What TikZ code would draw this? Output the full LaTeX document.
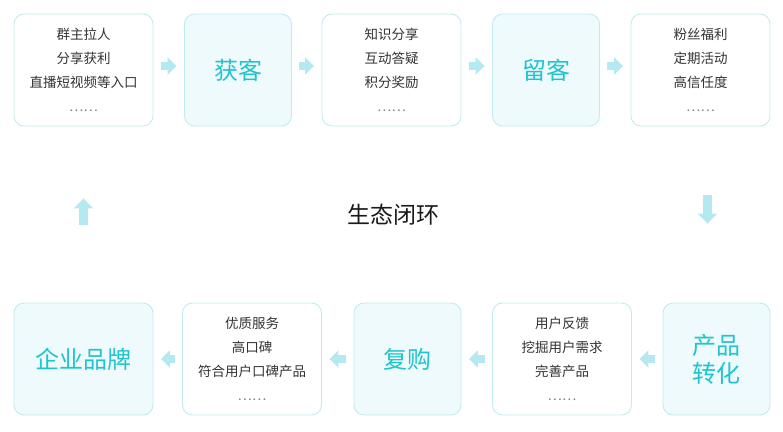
\documentclass[tikz,border=0pt]{standalone}
\usepackage{fontspec}
\setmainfont{Noto Sans CJK SC}
\usetikzlibrary{arrows.meta}
\definecolor{tealtxt}{HTML}{1FC4CF}
\definecolor{boxline}{HTML}{C2EBEF}
\definecolor{boxfill}{HTML}{EEFAFC}
\definecolor{arrowc}{HTML}{B5E9F1}
\definecolor{bodytxt}{HTML}{333333}

\begin{document}
\begin{tikzpicture}[x=1pt,y=-1pt,
  card/.style={draw=boxline,line width=0.9pt,rounded corners=10pt,fill=white,
    minimum height=112pt,inner sep=0pt,align=center,text=bodytxt,
    font=\fontsize{13.5}{23.8}\selectfont},
  wide/.style={card,minimum width=139pt},
  key/.style={card,fill=boxfill,minimum width=107pt,text=tealtxt,
    font=\fontsize{24}{28}\selectfont},
  flow/.style={draw=arrowc,line width=7.5pt,-{Triangle[length=9pt,width=17pt]}},
  vflow/.style={draw=arrowc,line width=8.5pt,-{Triangle[length=10pt,width=19pt]}},
]
  \useasboundingbox (0,0) rectangle (783,431);
  % top row
  \node[wide] (pull)  at (83.5,70)  {群主拉人\\分享获利\\直播短视频等入口\\\textcolor{gray}{……}};
  \node[key]  (gain)  at (238,70)   {获客};
  \node[wide] (share) at (391.5,70) {知识分享\\互动答疑\\积分奖励\\\textcolor{gray}{……}};
  \node[key]  (keep)  at (546,70)   {留客};
  \node[wide] (fans)  at (700.5,70) {粉丝福利\\定期活动\\高信任度\\\textcolor{gray}{……}};
  % bottom row
  \node[key,minimum width=139pt] (brand) at (83.5,359) {企业品牌};
  \node[wide] (fame)  at (252,359)   {优质服务\\高口碑\\符合用户口碑产品\\\textcolor{gray}{……}};
  \node[key]  (rebuy) at (407.5,359) {复购};
  \node[wide] (fix)   at (562,359)   {用户反馈\\挖掘用户需求\\完善产品\\\textcolor{gray}{……}};
  \node[key]  (prod)  at (716.5,359) {产品\\转化};
  \node[font=\fontsize{23}{23}\selectfont,text=black!90] (loop) at (393,215) {生态闭环};
  % arrows
  \foreach \a/\b in {pull/gain,gain/share,share/keep,keep/fans}
    \draw[flow,shorten <=7.5pt,shorten >=7.5pt] ([yshift=4pt]\a.east) -- ([yshift=4pt]\b.west);
  \foreach \a/\b in {prod/fix,fix/rebuy,rebuy/fame,fame/brand}
    \draw[flow,shorten <=7.5pt,shorten >=7.5pt] (\a.west) -- (\b.east);
  \draw[vflow,shorten <=78pt,shorten >=72pt] (brand.north) -- (pull.south);
  \draw[vflow,shorten <=69pt,shorten >=79pt] ([xshift=7pt]fans.south) -- ([xshift=-9pt]prod.north);
\end{tikzpicture}
\end{document}
